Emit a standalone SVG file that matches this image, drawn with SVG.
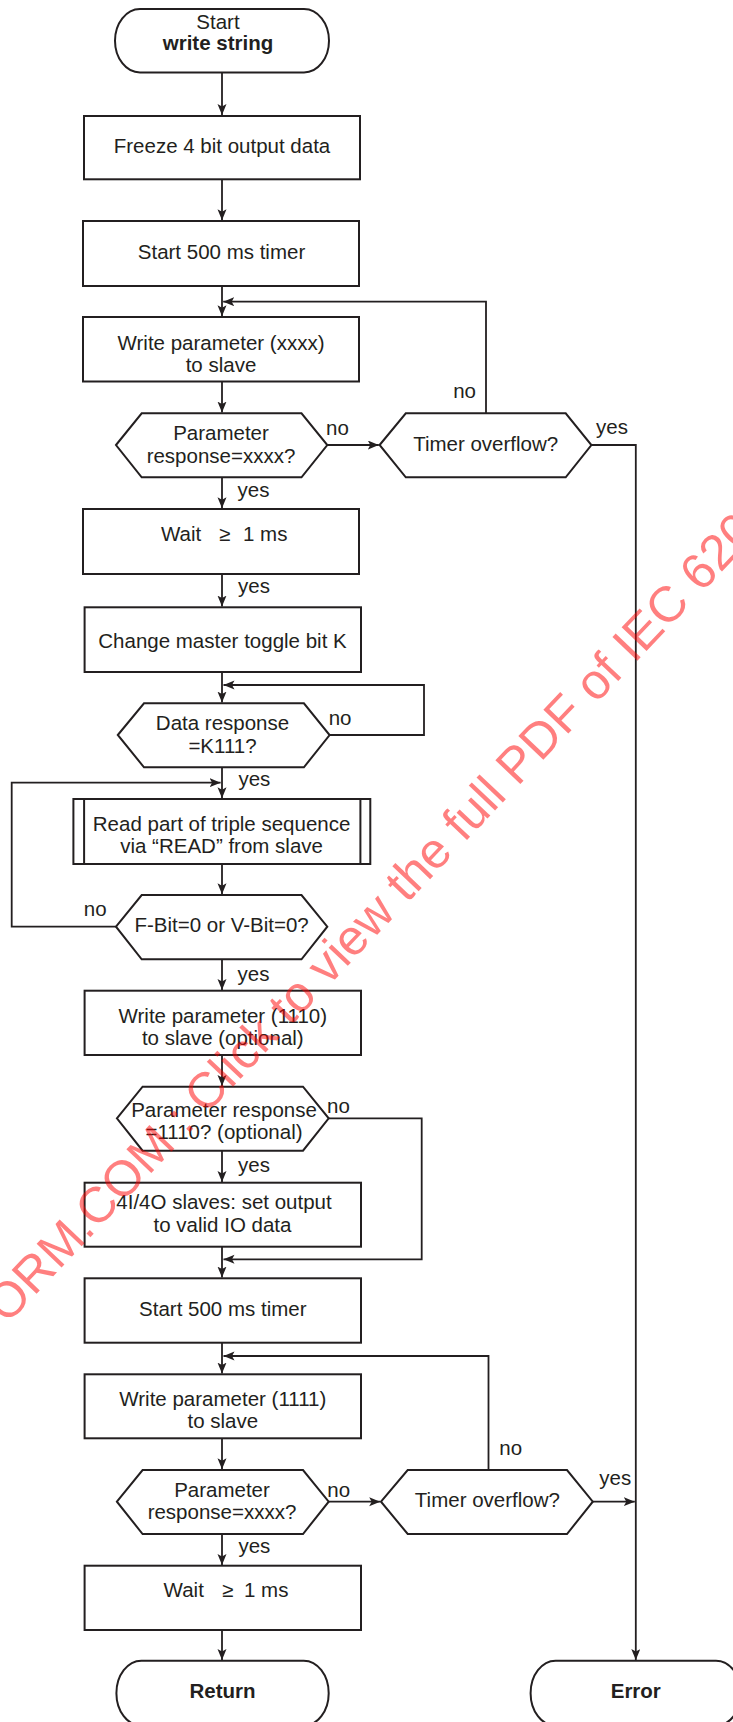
<svg xmlns="http://www.w3.org/2000/svg" width="733" height="1722" viewBox="0 0 733 1722">
<defs>
<style>
.s{fill:#fff;stroke:#231f20;stroke-width:2}
.c{fill:none;stroke:#231f20;stroke-width:1.8}
.ca{fill:none;stroke:#231f20;stroke-width:1.8;marker-end:url(#ah)}
.t{font-family:"Liberation Sans",Arial,sans-serif;font-size:20.5px;fill:#231f20;text-anchor:middle}
.b{font-weight:bold}
.l{font-family:"Liberation Sans",Arial,sans-serif;font-size:20.5px;fill:#231f20}
.w{font-family:"Liberation Sans",Arial,sans-serif;font-size:50px;fill:#ff0000;fill-opacity:0.5}
</style>
<marker id="ah" markerUnits="userSpaceOnUse" markerWidth="12" markerHeight="10" refX="11" refY="4.5" orient="auto">
<path d="M0,0 L11,4.5 L0,9 L2.5,4.5 Z" fill="#231f20"/>
</marker>
</defs>
<rect width="733" height="1722" fill="#fff"/>

<g id="connectors">
<path class="ca" d="M222,72.5 V115"/>
<path class="ca" d="M222,179.3 V220.3"/>
<path class="ca" d="M222,286 V316.3"/>
<path class="ca" d="M222,381.5 V412.6"/>
<path class="ca" d="M327.3,445 H378.8"/>
<path class="ca" d="M486,413.3 V301.7 H223.2"/>
<path class="ca" d="M591.4,445 H635.8 V1660"/>
<path class="ca" d="M222,477.3 V508.3"/>
<path class="ca" d="M222,574 V606.6"/>
<path class="ca" d="M222,672 V702.6"/>
<path class="ca" d="M329.6,735 H424 V685 H223.5"/>
<path class="ca" d="M222,767.3 V798.3"/>
<path class="ca" d="M222,864 V894.3"/>
<path class="ca" d="M116,926.7 H11.7 V782.7 H220.6"/>
<path class="ca" d="M222,959.3 V990"/>
<path class="ca" d="M222,1055 V1086"/>
<path class="ca" d="M328.7,1118.3 H421.7 V1259.3 H223.5"/>
<path class="ca" d="M222,1150.7 V1182"/>
<path class="ca" d="M222,1246.7 V1277.6"/>
<path class="ca" d="M222,1342.7 V1373.6"/>
<path class="ca" d="M488.5,1470 V1356 H223.5"/>
<path class="ca" d="M222,1438.3 V1469.3"/>
<path class="ca" d="M328.7,1501.7 H380.2"/>
<path class="ca" d="M592.8,1501.7 H634.8"/>
<path class="ca" d="M222,1534 V1565"/>
<path class="ca" d="M222,1630 V1660"/>
<text class="l" x="326" y="435">no</text>
<text class="l" x="476" y="397.7" text-anchor="end">no</text>
<text class="l" x="596" y="434.3">yes</text>
<text class="l" x="237.5" y="497.3">yes</text>
<text class="l" x="238" y="593.3">yes</text>
<text class="l" x="328.7" y="725">no</text>
<text class="l" x="238.4" y="786">yes</text>
<text class="l" x="106.6" y="915.7" text-anchor="end">no</text>
<text class="l" x="237.5" y="981">yes</text>
<text class="l" x="327" y="1112.7">no</text>
<text class="l" x="238" y="1171.7">yes</text>
<text class="l" x="499.3" y="1455">no</text>
<text class="l" x="327.3" y="1496.7">no</text>
<text class="l" x="599.3" y="1485">yes</text>
<text class="l" x="238.4" y="1553.3">yes</text>
</g>

<g id="start">
<path class="s" d="M140,9 H304 A25,31.75 0 0 1 304,72.5 H140 A25,31.75 0 0 1 140,9 Z"/>
<text class="t" x="218" y="28.5">Start</text>
<text class="t b" x="218" y="50">write string</text>
</g>

<g id="freeze">
<rect class="s" x="84" y="116" width="276" height="63.3"/>
<text class="t" x="222" y="153.3">Freeze 4 bit output data</text>
</g>

<g id="timer1">
<rect class="s" x="83" y="221" width="276" height="65"/>
<text class="t" x="221.5" y="259">Start 500 ms timer</text>
</g>

<g id="write1">
<rect class="s" x="83" y="317" width="276" height="64.5"/>
<text class="t" x="221" y="350">Write parameter (xxxx)</text>
<text class="t" x="221" y="371.7">to slave</text>
</g>

<g id="param1">
<polygon class="s" points="116,445 141.7,413.3 301.5,413.3 327.3,445 301.5,477.3 141.7,477.3"/>
<text class="t" x="221" y="440">Parameter</text>
<text class="t" x="221" y="462.7">response=xxxx?</text>
</g>

<g id="overflow1">
<polygon class="s" points="379.6,445 405.8,413.3 565.7,413.3 591.4,445 565.7,477.3 405.8,477.3"/>
<text class="t" x="485.7" y="451">Timer overflow?</text>
</g>

<g id="wait1">
<rect class="s" x="83" y="509" width="276" height="65"/>
<text class="l" y="540.7"><tspan x="161">Wait</tspan><tspan x="219">≥</tspan><tspan x="243">1 ms</tspan></text>
</g>

<g id="toggle">
<rect class="s" x="84.6" y="607.3" width="276.4" height="64.7"/>
<text class="t" x="222.5" y="648.3">Change master toggle bit K</text>
</g>

<g id="data">
<polygon class="s" points="117.8,735 144,703.3 303.9,703.3 329.6,735 303.9,767.3 144,767.3"/>
<text class="t" x="222.5" y="730">Data response</text>
<text class="t" x="222.5" y="752.7">=K111?</text>
</g>

<g id="read">
<rect class="s" x="73.4" y="799" width="296.9" height="65"/>
<line class="c" x1="84.1" y1="799" x2="84.1" y2="864" style="stroke-width:2"/>
<line class="c" x1="360.4" y1="799" x2="360.4" y2="864" style="stroke-width:2"/>
<text class="t" x="221.6" y="830.7">Read part of triple sequence</text>
<text class="t" x="221.6" y="853.3">via “READ” from slave</text>
</g>

<g id="fbit">
<polygon class="s" points="116,926.7 141.7,895 301.5,895 327.3,926.7 301.5,959.3 141.7,959.3"/>
<text class="t" x="221.6" y="931.7">F-Bit=0 or V-Bit=0?</text>
</g>

<g id="write1110">
<rect class="s" x="84.6" y="990.7" width="276.4" height="64.3"/>
<text class="t" x="222.8" y="1023.3">Write parameter (1110)</text>
<text class="t" x="222.8" y="1045">to slave (optional)</text>
</g>

<g id="param1110">
<polygon class="s" points="116.9,1118.3 142.6,1086.7 303,1086.7 328.7,1118.3 303,1150.7 142.6,1150.7"/>
<text class="t" x="224" y="1116.7">Parameter response</text>
<text class="t" x="224" y="1139.3">=1110? (optional)</text>
</g>

<g id="setoutput">
<rect class="s" x="84.6" y="1182.7" width="276.4" height="64"/>
<text class="t" x="224" y="1209">4I/4O slaves: set output</text>
<text class="t" x="222.5" y="1231.7">to valid IO data</text>
</g>

<g id="timer2">
<rect class="s" x="84.6" y="1278.3" width="276.4" height="64.4"/>
<text class="t" x="222.8" y="1315.7">Start 500 ms timer</text>
</g>

<g id="write1111">
<rect class="s" x="84.6" y="1374.3" width="276.4" height="64"/>
<text class="t" x="222.8" y="1406">Write parameter (1111)</text>
<text class="t" x="222.8" y="1428.3">to slave</text>
</g>

<g id="param2">
<polygon class="s" points="116.9,1501.7 142.6,1470 303,1470 328.7,1501.7 303,1534 142.6,1534"/>
<text class="t" x="222" y="1496.7">Parameter</text>
<text class="t" x="222" y="1519.3">response=xxxx?</text>
</g>

<g id="overflow2">
<polygon class="s" points="381,1501.7 407.7,1470 567,1470 592.8,1501.7 567,1534 407.7,1534"/>
<text class="t" x="487.4" y="1506.7">Timer overflow?</text>
</g>

<g id="wait2">
<rect class="s" x="84.6" y="1565.7" width="276.4" height="64.3"/>
<text class="l" y="1596.7"><tspan x="163.6">Wait</tspan><tspan x="222">≥</tspan><tspan x="244">1 ms</tspan></text>
</g>

<g id="return">
<path class="s" d="M141.4,1660.7 H303.7 A25,32.45 0 0 1 303.7,1725.6 H141.4 A25,32.45 0 0 1 141.4,1660.7 Z"/>
<text class="t b" x="222.5" y="1698.3">Return</text>
</g>

<g id="error">
<path class="s" d="M555.6,1660.7 H716 A25,32.45 0 0 1 716,1725.6 H555.6 A25,32.45 0 0 1 555.6,1660.7 Z"/>
<text class="t b" x="635.8" y="1698.3">Error</text>
</g>

<text class="w" transform="translate(7,1325) rotate(-46.5)">ORM.COM : Click to view the full PDF of IEC 620</text>
</svg>
